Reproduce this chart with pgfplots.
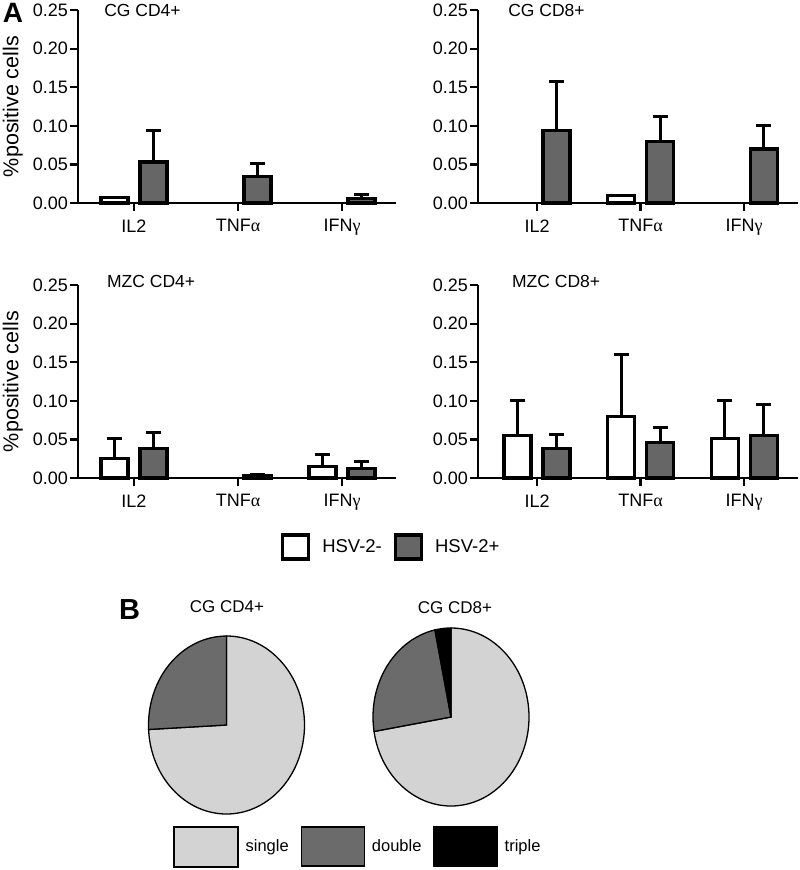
\documentclass[border=0pt]{standalone}
\usepackage{pgfplots}
\pgfplotsset{compat=1.18}
\usepackage{pgfplotstable}
\usepackage{fontspec}
\setmainfont{Liberation Sans}
\newfontfamily\greek{Liberation Serif}
\definecolor{bargray}{RGB}{102,102,102}
\definecolor{pielight}{RGB}{211,211,211}
\definecolor{piedark}{RGB}{107,107,107}

% x: 0=IL2, 1=TNFa, 2=IFNg ; neg = HSV-2-, pos = HSV-2+ (errors = upper error)
\pgfplotstableread{
x neg    negerr pos    poserr
0 0.007  0      0.053  0.0405
1 nan    0      0.0345 0.0165
2 nan    0      0.006  0.005
}\cgfour
\pgfplotstableread{
x neg    negerr pos    poserr
0 nan    0      0.0944 0.0632
1 0.0095 0      0.080  0.0317
2 nan    0      0.070  0.0304
}\cgeight
\pgfplotstableread{
x neg    negerr pos    poserr
0 0.025  0.026  0.038  0.021
1 nan    0      0.003  0.002
2 0.0146 0.0154 0.0128 0.009
}\mzcfour
\pgfplotstableread{
x neg    negerr pos    poserr
0 0.0546 0.0454 0.038  0.0188
1 0.080  0.080  0.0464 0.0186
2 0.0507 0.0493 0.055  0.0404
}\mzceight
\pgfplotstableread{
cell single double triple
CD4  74.2   25.8   0
CD8  72.4   24.3   3.3
}\piedata

\pgfplotsset{
  barpanel/.style={
    scale only axis, height=193pt,
    ymin=0, ymax=0.25,
    ytick={0,0.05,0.1,0.15,0.2,0.25},
    yticklabels={0.00,0.05,0.10,0.15,0.20,0.25},
    xtick={0,1,2}, xticklabels={IL2,TNF{\greek α},IFN{\greek γ}},
    axis lines=left,
    axis line style={line width=2.2pt,-},
    tick style={line width=2.2pt,black},
    major tick length=8pt, tick align=outside,
    tick label style={font=\fontsize{18}{21}\selectfont},
    yticklabel style={inner sep=2pt},
    xticklabel style={yshift=-5pt},
    ybar=12pt, bar width=27pt,
    unbounded coords=discard,
    clip=false,
  },
  negbar/.style={fill=white, draw=black, line width=3.2pt,
    legend image code/.code={\draw[fill=white,draw=black,line width=3.2pt] (0pt,-12pt) rectangle (26pt,12pt);}},
  posbar/.style={fill=bargray, draw=black, line width=3.2pt,
    legend image code/.code={\draw[fill=bargray,draw=black,line width=3.2pt] (0pt,-12pt) rectangle (26pt,12pt);}},
  errs/.style={error bars/.cd, y dir=plus, y explicit,
    error bar style={line width=3pt,black},
    error mark options={rotate=90,line width=3pt,black,mark size=7.5pt}},
  ylab/.style={ylabel={\%positive cells},
    ylabel style={at={(axis description cs:-0.205,0.5)},anchor=center,font=\fontsize{21.5}{25}\selectfont}},
  pieaxis/.style={scale only axis, xmin=-1, xmax=1, ymin=-1, ymax=1, hide axis, clip=false},
}

\newcommand{\pieslice}[4]{% start, end, fill, line width
  \filldraw[fill=#3, draw=black, line width=#4] (axis cs:0,0) -- ++(#1:78pt and 89pt)
    arc[start angle=#1, end angle=#2, x radius=78pt, y radius=89pt] -- cycle;}

\begin{document}
\begin{tikzpicture}
\path[use as bounding box] (0pt,0pt) rectangle (800pt,-870pt);

\node[font=\bfseries\fontsize{28}{30}\selectfont] at (13pt,-13pt) {A};
\node[font=\bfseries\fontsize{29}{31}\selectfont] at (129.5pt,-609.5pt) {B};

% ---------- CG CD4+
\begin{axis}[barpanel, ylab, at={(78pt,-203pt)}, anchor=south west, width=318pt,
  xmin=-0.538, xmax=2.519]
\addplot[negbar] table[x=x,y=neg] {\cgfour};
\addplot[posbar, errs] table[x=x,y=pos,y error=poserr] {\cgfour};
\node[anchor=west,inner sep=0pt,font=\fontsize{17.5}{20}\selectfont] at (axis description cs:0.082,1.0) {CG CD4+};
\end{axis}

% ---------- CG CD8+
\begin{axis}[barpanel, at={(478pt,-203pt)}, anchor=south west, width=320pt,
  xmin=-0.57, xmax=2.52]
\addplot[negbar] table[x=x,y=neg] {\cgeight};
\addplot[posbar, errs] table[x=x,y=pos,y error=poserr] {\cgeight};
\node[anchor=west,inner sep=0pt,font=\fontsize{17.5}{20}\selectfont] at (axis description cs:0.094,1.0) {CG CD8+};
\end{axis}

% ---------- MZC CD4+
\begin{axis}[barpanel, ylab, at={(78pt,-478pt)}, anchor=south west, width=318pt,
  xmin=-0.538, xmax=2.519,
  legend style={at={(axis description cs:0.985,-0.3575)}, anchor=center, draw=none, fill=none,
    legend columns=2, font=\fontsize{18.5}{22}\selectfont,
    /tikz/every odd column/.append style={column sep=10pt},
    /tikz/every even column/.append style={column sep=10pt}},
  legend cell align=left]
\addplot[negbar, errs] table[x=x,y=neg,y error=negerr] {\mzcfour};
\addplot[posbar, errs] table[x=x,y=pos,y error=poserr] {\mzcfour};
\legend{HSV-2-,HSV-2+}
\node[anchor=west,inner sep=0pt,font=\fontsize{17.5}{20}\selectfont] at (axis description cs:0.091,1.02) {MZC CD4+};
\end{axis}

% ---------- MZC CD8+
\begin{axis}[barpanel, at={(478pt,-478pt)}, anchor=south west, width=320pt,
  xmin=-0.57, xmax=2.52]
\addplot[negbar, errs] table[x=x,y=neg,y error=negerr] {\mzceight};
\addplot[posbar, errs] table[x=x,y=pos,y error=poserr] {\mzceight};
\node[anchor=west,inner sep=0pt,font=\fontsize{17.5}{20}\selectfont] at (axis description cs:0.106,1.02) {MZC CD8+};
\end{axis}

% ---------- pie angles from table
\pgfplotstablegetelem{0}{single}\of\piedata
\pgfmathsetmacro\fourA{90-3.6*\pgfplotsretval}
\pgfplotstablegetelem{0}{double}\of\piedata
\pgfmathsetmacro\fourB{\fourA-3.6*\pgfplotsretval}
\pgfplotstablegetelem{1}{single}\of\piedata
\pgfmathsetmacro\eightA{90-3.6*\pgfplotsretval}
\pgfplotstablegetelem{1}{double}\of\piedata
\pgfmathsetmacro\eightB{\eightA-3.6*\pgfplotsretval}
\pgfplotstablegetelem{1}{triple}\of\piedata
\pgfmathsetmacro\eightC{\eightB-3.6*\pgfplotsretval}

% ---------- pie CG CD4+
\begin{axis}[pieaxis, at={(226.5pt,-725pt)}, anchor=center, width=156pt, height=178pt,
  legend style={at={(axis description cs:1.34,-0.1826)}, anchor=center, draw=none, fill=none,
    legend columns=3, font=\fontsize{16.5}{20}\selectfont,
    /tikz/every odd column/.append style={column sep=5pt},
    /tikz/every even column/.append style={column sep=10pt}},
  legend cell align=left]
\addlegendimage{legend image code/.code={\draw[fill=pielight,draw=black,line width=2pt] (0pt,-20pt) rectangle (64pt,20pt);}}
\addlegendentry{single}
\addlegendimage{legend image code/.code={\draw[fill=piedark,draw=black,line width=1.2pt] (0pt,-19.5pt) rectangle (63pt,19.5pt);}}
\addlegendentry{double}
\addlegendimage{legend image code/.code={\draw[fill=black,draw=black,line width=1.2pt] (0pt,-19.5pt) rectangle (63pt,19.5pt);}}
\addlegendentry{triple}
\pieslice{90}{\fourA}{pielight}{1.3pt}
\pieslice{\fourA}{\fourB}{piedark}{1.3pt}
\node[font=\fontsize{17}{20}\selectfont] at (axis description cs:0.503,1.163) {CG CD4+};
\end{axis}

% ---------- pie CG CD8+
\begin{axis}[pieaxis, at={(451pt,-717pt)}, anchor=center, width=156pt, height=178pt]
\pieslice{90}{\eightA}{pielight}{1.3pt}
\pieslice{\eightA}{\eightB}{piedark}{1.3pt}
\pieslice{\eightB}{\eightC}{black}{1.3pt}
\node[font=\fontsize{17}{20}\selectfont] at (axis description cs:0.525,1.115) {CG CD8+};
\end{axis}
\end{tikzpicture}
\end{document}
